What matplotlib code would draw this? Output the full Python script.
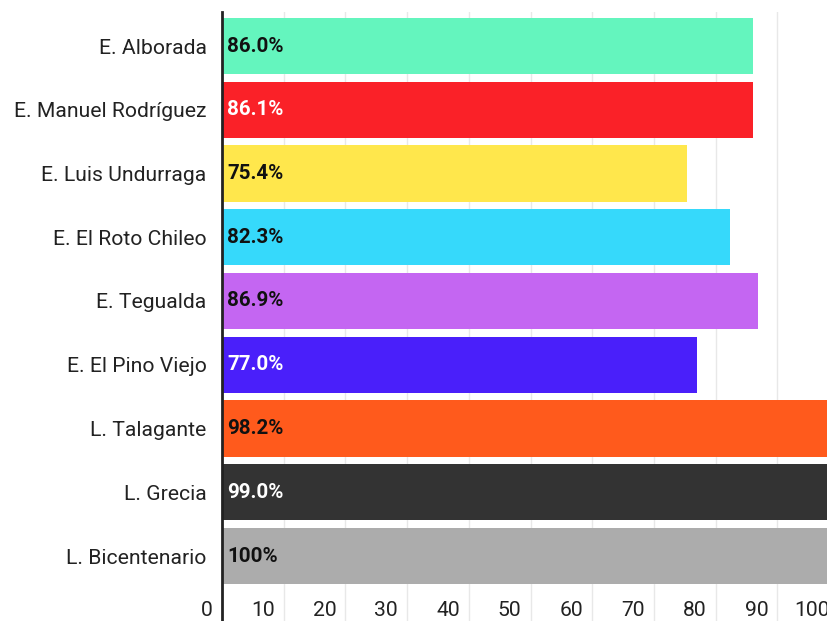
import matplotlib
matplotlib.use("Agg")
import matplotlib.pyplot as plt
import matplotlib.transforms as mtransforms

categories = ["E. Alborada", "E. Manuel Rodríguez", "E. Luis Undurraga", "E. El Roto Chileo",
              "E. Tegualda", "E. El Pino Viejo", "L. Talagante", "L. Grecia", "L. Bicentenario"]
values = [86.0, 86.1, 75.4, 82.3, 86.9, 77.0, 98.2, 99.0, 100.0]
value_labels = ["86.0%", "86.1%", "75.4%", "82.3%", "86.9%", "77.0%", "98.2%", "99.0%", "100%"]
colors = ["#64F5BE", "#FA2128", "#FFE74C", "#36D9FB", "#C466F2", "#4A1FFA", "#FF5A1C", "#333333", "#ACACAC"]
text_colors = ["#111111", "white", "#111111", "#111111", "#111111", "white", "#111111", "white", "#111111"]
xticks = [0, 10, 20, 30, 40, 50, 60, 70, 80, 90, 100]

plt.rcParams['font.family'] = ['Roboto', 'DejaVu Sans']

W, H = 827, 621
fig = plt.figure(figsize=(W/100, H/100), dpi=100)
left_px, right_px, top_px = 222, 839, 12
ax = fig.add_axes([left_px/W, 0, (right_px-left_px)/W, (H-top_px)/H])

pitch = 63.75
c0 = 46
ax.set_ylim((H - c0)/pitch, (top_px - c0)/pitch)
ax.set_xlim(0, 100)

ys = list(range(len(categories)))
ax.barh(ys, values, height=0.885, color=colors, zorder=2)

for spine in ["top", "right", "bottom"]:
    ax.spines[spine].set_visible(False)
ax.spines["left"].set_linewidth(2)
ax.spines["left"].set_color("#222222")
ax.spines["left"].set_zorder(5)

ax.set_xticks(xticks[1:])
ax.set_xticklabels([])
ax.tick_params(axis='x', length=0)
ax.grid(axis='x', color='#e8e8e8', linewidth=1, zorder=0)
ax.set_axisbelow(True)

ax.set_yticks(ys)
ax.set_yticklabels(categories, fontsize=15.2, color="#222222")
ax.tick_params(axis='y', length=0, pad=11)

# x tick labels drawn inside the plot area near the bottom
off = mtransforms.offset_copy(ax.transData, fig=fig, x=-9, y=0, units='dots')
ybot = (610 - c0)/pitch
for t in xticks:
    ax.text(t, ybot, str(t), transform=off, ha='right', va='center',
            fontsize=15.2, color="#222222", clip_on=False)

off2 = mtransforms.offset_copy(ax.transData, fig=fig, x=5, y=0, units='dots')
for y, lab, tc in zip(ys, value_labels, text_colors):
    ax.text(0, y, lab, transform=off2, ha='left', va='center', fontsize=14.8,
            fontweight='bold', color=tc, zorder=6)

fig.savefig("out.png", dpi=100)
